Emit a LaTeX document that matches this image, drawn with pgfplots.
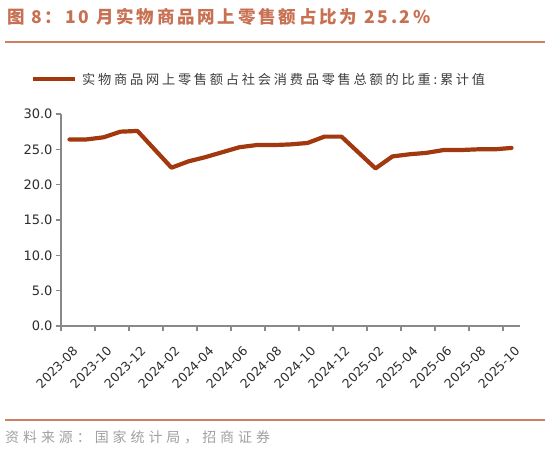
\documentclass[border=0pt]{standalone}
\usepackage{fontspec}
\usepackage{pgfplots}
\pgfplotsset{compat=1.18}
\setmainfont{DejaVu Sans}
\newfontfamily\cjktitle[LetterSpace=16]{Noto Sans CJK SC}
\newfontfamily\cjkleg[LetterSpace=21]{Noto Sans CJK SC}
\newfontfamily\cjksrc[LetterSpace=28]{Noto Sans CJK SC}

\definecolor{titlec}{RGB}{200,112,82}
\definecolor{rulec}{RGB}{208,128,98}
\definecolor{linec}{RGB}{162,56,14}
\definecolor{axisc}{RGB}{137,137,137}
\definecolor{tickc}{RGB}{45,45,45}
\definecolor{legc}{RGB}{60,60,60}
\definecolor{srcc}{RGB}{160,160,160}

\begin{document}
\begin{tikzpicture}[x=1pt,y=1pt]
\useasboundingbox (0,0) rectangle (549,448);

% title and rules
\node[anchor=base west, inner sep=0, text=titlec] at (7,424.5)
  {\cjktitle\bfseries\fontsize{17.5}{19}\selectfont 图 8：10 月实物商品网上零售额占比为 25.2\%};
\draw[rulec, line width=2pt] (5,406) -- (545,406);

% legend
\draw[linec, line width=4.5pt] (33,369) -- (75,369);
\node[anchor=west, inner sep=0, text=legc] at (82,369)
  {\cjkleg\fontsize{13.2}{15}\selectfont 实物商品网上零售额占社会消费品零售总额的比重:累计值};

% source
\draw[rulec, line width=1.5pt] (5,28) -- (545,28);
\node[anchor=west, inner sep=0, text=srcc] at (5,11)
  {\cjksrc\fontsize{14}{16}\selectfont 资料来源：国家统计局，招商证券};

\begin{axis}[
  at={(61pt,122pt)}, anchor=south west,
  scale only axis, width=459pt, height=212pt,
  xmin=-0.5, xmax=26.5, ymin=0, ymax=30,
  enlargelimits=false,
  axis lines=left,
  axis line style={-, draw=axisc, line width=1.2pt},
  tick style={draw=axisc, line width=1.2pt},
  tick align=outside, major tick length=5pt,
  ytick={0,5,...,30},
  xtick={-0.5,1.5,...,25.5},
  xticklabels={2023-08,2023-10,2023-12,2024-02,2024-04,2024-06,2024-08,2024-10,2024-12,2025-02,2025-04,2025-06,2025-08,2025-10},
  /pgf/number format/assume math mode=true,
  /pgf/number format/fixed,
  /pgf/number format/fixed zerofill,
  /pgf/number format/precision=1,
  y tick label style={font=\fontsize{13}{15}\selectfont, text=tickc},
  x tick label style={font=\fontsize{12.5}{15}\selectfont, text=tickc,
    inner sep=1pt, xshift=11pt, yshift=-13pt, rotate=45, anchor=north east},
]
\addplot[linec, line width=4.2pt, line join=round, line cap=round] coordinates {
(0,26.4) (1,26.4) (2,26.7) (3,27.5) (4,27.6)
(6,22.4) (7,23.3) (8,23.9) (9,24.6) (10,25.3) (11,25.6) (12,25.6)
(13,25.7) (14,25.9) (15,26.8) (16,26.8)
(18,22.3) (19,24.0) (20,24.3) (21,24.5) (22,24.9) (23,24.9)
(24,25.0) (25,25.0) (26,25.2)
};
\end{axis}
\end{tikzpicture}
\end{document}
